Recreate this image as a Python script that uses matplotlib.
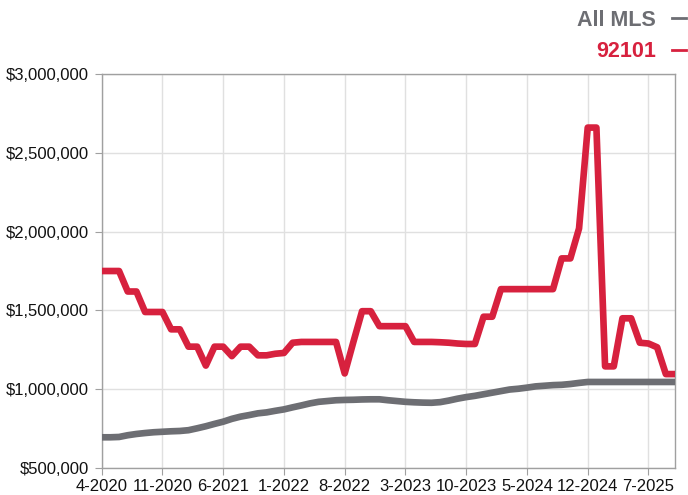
import numpy as np
import matplotlib
matplotlib.use("Agg")
import matplotlib.pyplot as plt
from matplotlib.lines import Line2D
from matplotlib.ticker import FuncFormatter

# monthly points, 4-2020 .. 10-2025
months = ["%d-%d" % ((3 + i) % 12 + 1, 2020 + (3 + i) // 12) for i in range(67)]

all_mls = [695, 695, 697, 708, 716, 722, 727, 730, 733, 735,
           740, 752, 765, 780, 794, 812, 826, 836, 847, 853,
           863, 872, 885, 897, 910, 920, 925, 930, 932, 933,
           935, 936, 936, 930, 925, 920, 917, 915, 914, 918,
           928, 940, 950, 958, 968, 978, 988, 998, 1003, 1010,
           1018, 1022, 1026, 1028, 1033, 1040, 1046, 1046, 1046, 1046,
           1046, 1046, 1046, 1046, 1046, 1046, 1046]

zip_92101 = [1750, 1750, 1750, 1620, 1620, 1490, 1490, 1490, 1380, 1380,
             1270, 1270, 1150, 1270, 1270, 1210, 1270, 1270, 1215, 1215,
             1225, 1230, 1295, 1300, 1300, 1300, 1300, 1300, 1100, 1300,
             1495, 1495, 1400, 1400, 1400, 1400, 1300, 1300, 1300, 1298,
             1295, 1290, 1287, 1287, 1460, 1460, 1635, 1635, 1635, 1635,
             1635, 1635, 1635, 1830, 1830, 2020, 2660, 2660, 1145, 1145,
             1450, 1450, 1295, 1290, 1266, 1096, 1096]

y_ticks = [500000, 1000000, 1500000, 2000000, 2500000, 3000000]

gray = "#6d6e73"
red = "#d7213e"

plt.rcParams['font.family'] = ['Liberation Sans', 'DejaVu Sans']

fig = plt.figure(figsize=(6.88, 4.95), dpi=100)
ax = fig.add_axes([0.1478, 0.0545, 0.8326, 0.796])

x = np.arange(len(months))
ax.plot(x, np.array(all_mls) * 1000, color=gray, lw=4.8, solid_joinstyle='round', zorder=3)
ax.plot(x, np.array(zip_92101) * 1000, color=red, lw=4.8, solid_joinstyle='round', zorder=4)

ax.set_xlim(0, len(months) - 1)
ax.set_ylim(500000, 3000000)
ax.set_yticks(y_ticks)
ax.yaxis.set_major_formatter(FuncFormatter(lambda v, p: "${:,.0f}".format(v)))
ax.set_xticks(x[::7])
ax.set_xticklabels(months[::7])

ax.grid(True, color="#e0e0e0", lw=1, zorder=0)
for s in ax.spines.values():
    s.set_color("#a0a0a0")
    s.set_linewidth(1)
ax.tick_params(axis='both', colors="#a0a0a0", length=5, labelcolor="#111111", labelsize=12)
ax.tick_params(axis='x', pad=3)
ax.tick_params(axis='y', pad=4)

# legend drawn as text at top right
fig.text(656 / 688, 1 - 26 / 495, "All MLS", color=gray, fontsize=15.5,
         fontweight='bold', ha='right', va='baseline')
fig.text(656 / 688, 1 - 57.3 / 495, "92101", color=red, fontsize=15.5,
         fontweight='bold', ha='right', va='baseline')
fig.add_artist(Line2D([672 / 688, 686 / 688], [1 - 18 / 495] * 2, color=gray, lw=2))
fig.add_artist(Line2D([672 / 688, 686 / 688], [1 - 49.5 / 495] * 2, color=red, lw=2))

fig.savefig("out.png", dpi=100)
